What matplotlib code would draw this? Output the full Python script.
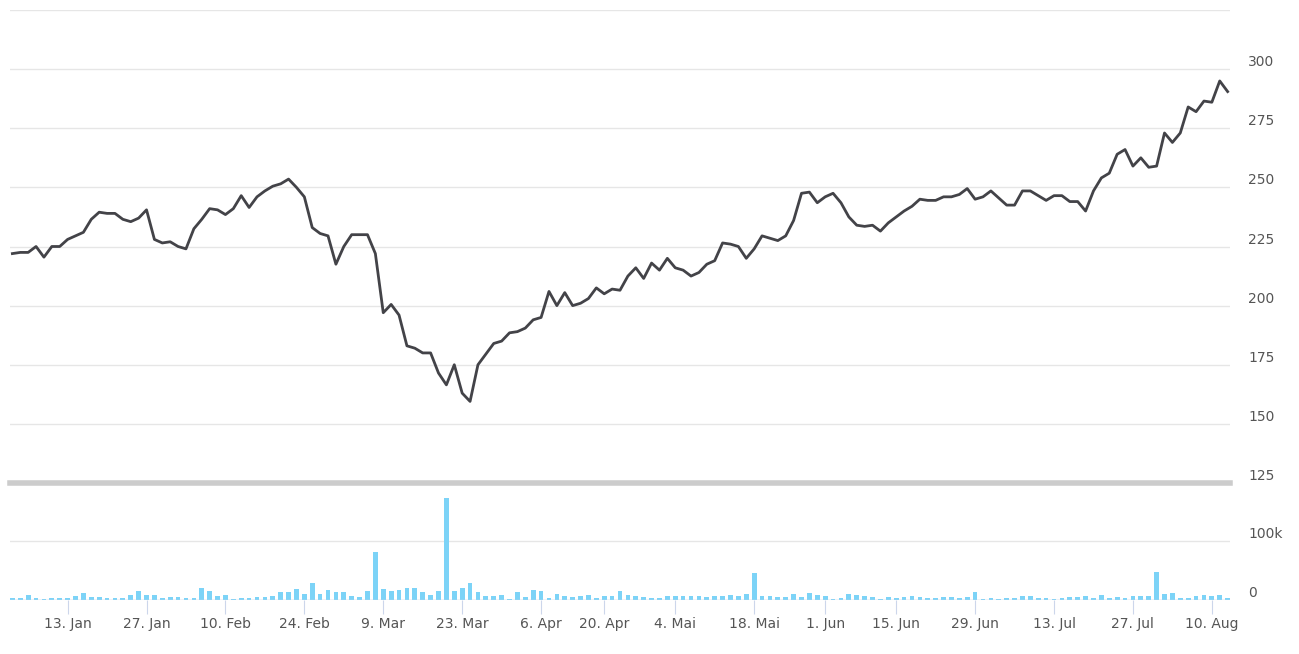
import numpy as np
import pandas as pd
import matplotlib.pyplot as plt

holidays = ["2020-04-10", "2020-04-13", "2020-05-01", "2020-05-21", "2020-06-11"]
dates = pd.bdate_range("2020-01-02", "2020-08-13")
dates = dates[~dates.isin(pd.to_datetime(holidays))]

price = [222, 222.5,
         222.5, 225, 220.5, 225, 225,
         228, 229.5, 231, 236.5, 239.5,
         239, 239, 236.5, 235.5, 237,
         240.5, 228, 226.5, 227, 225,
         224, 232.5, 236.5, 241, 240.5,
         238.5, 241, 246.5, 241.5, 246,
         248.5, 250.5, 251.5, 253.5, 250,
         246, 233, 230.5, 229.5, 217.5,
         225, 230, 230, 230, 222,
         197, 200.5, 196, 183, 182,
         180, 180, 171.5, 166.5, 175,
         163, 159.5, 175, 179.5, 184,
         185, 188.5, 189, 190.5, 194,
         195, 206, 200, 205.5,
         200, 201, 203, 207.5,
         205, 207, 206.5, 212.5, 216,
         211.5, 218, 215, 220,
         216, 215, 212.5, 214, 217.5,
         219, 226.5, 226, 225, 220,
         224, 229.5, 228.5, 227.5,
         229.5, 236, 247.5, 248, 243.5,
         246, 247.5, 243.5, 237.5, 234,
         233.5, 234, 231.5,
         235, 237.5, 240, 242, 245,
         244.5, 244.5, 246, 246, 247,
         249.5, 245, 246, 248.5, 245.5,
         242.5, 242.5, 248.5, 248.5, 246.5,
         244.5, 246.5, 246.5, 244, 244,
         240, 248.5, 254, 256, 264,
         266, 259, 262.5, 258.5, 259,
         273, 269, 273, 284, 282,
         286.5, 286, 295, 290.5]

volume = [3, 3, 9, 4, 1, 4, 4, 4, 7, 12, 5, 5, 4, 3, 3, 8,
          16, 9, 9, 4, 5, 5, 4, 4, 20, 16, 7, 8, 2, 4,
          4, 5, 5, 7, 13, 14, 19, 10, 28, 10, 17, 13, 14, 7, 5,
          15, 82, 18, 16, 17, 20, 21, 13, 9, 15, 173, 15,
          20, 28, 13, 7, 7, 8, 2, 13, 5, 17, 16, 4, 10, 7,
          5, 6, 8, 3, 6, 6, 15, 9, 7, 5, 4, 3, 6, 7, 7,
          7, 6, 5, 6, 7, 8, 7, 11, 45, 6, 7, 5, 5, 11, 5,
          12, 9, 6, 2, 4, 10, 8, 6, 5, 2, 5, 4, 5, 6, 5,
          4, 3, 5, 5, 3, 5, 13, 2, 4, 2, 4, 3, 7, 6, 3,
          3, 2, 4, 5, 5, 6, 4, 9, 3, 5, 4, 6, 7, 6, 47,
          11, 12, 3, 4, 6, 8, 7, 8, 4]

n = min(len(dates), len(price), len(volume))
dates = dates[:n]
price = np.array(price[:n])
volume = np.array(volume[:n]) * 1000
x = np.arange(n)

tick_dates = ["2020-01-13", "2020-01-27", "2020-02-10", "2020-02-24", "2020-03-09",
              "2020-03-23", "2020-04-06", "2020-04-20", "2020-05-04", "2020-05-18",
              "2020-06-01", "2020-06-15", "2020-06-29", "2020-07-13", "2020-07-27",
              "2020-08-10"]
tick_labels = ["13. Jan", "27. Jan", "10. Feb", "24. Feb", "9. Mar", "23. Mar",
               "6. Apr", "20. Apr", "4. Mai", "18. Mai", "1. Jun", "15. Jun",
               "29. Jun", "13. Jul", "27. Jul", "10. Aug"]
tick_pos = dates.searchsorted(pd.to_datetime(tick_dates))

W, H = 1299, 654
fig = plt.figure(figsize=(W / 100, H / 100), dpi=100)
left, right = 10 / W, 1230 / W
ax = fig.add_axes([left, 1 - 483 / H, right - left, (483 - 10) / H])
axv = fig.add_axes([left, 1 - 600 / H, right - left, (600 - 483) / H], sharex=ax)

txt = "#555555"
grid = "#e6e6e6"
for a in (ax, axv):
    for s in a.spines.values():
        s.set_visible(False)
    a.yaxis.tick_right()
    a.grid(axis="y", color=grid, lw=1)
    a.set_axisbelow(True)
    a.tick_params(axis="y", length=0, labelsize=10, labelcolor=txt, pad=13)

ax.plot(x, price, color="#434348", lw=2)
ax.set_ylim(125, 325)
ax.set_yticks([125, 150, 175, 200, 225, 250, 275, 300, 325])
ax.set_yticklabels(["125", "150", "175", "200", "225", "250", "275", "300", ""])
for lbl in ax.get_yticklabels():
    lbl.set_verticalalignment("bottom")
ax.tick_params(axis="x", bottom=False, labelbottom=False)
ax.set_xlim(-0.3, n - 0.7)

axv.bar(x, volume, width=0.6, color="#7cd3f7")
axv.set_ylim(0, 198000)
axv.set_yticks([0, 100000])
axv.set_yticklabels(["0", "100k"])
for lbl in axv.get_yticklabels():
    lbl.set_verticalalignment("bottom")
axv.axhline(198000, color="#cccccc", lw=4, clip_on=False)
axv.axhline(0, color="#ccd6eb", lw=1)
axv.set_xticks(tick_pos)
axv.set_xticklabels(tick_labels)
axv.tick_params(axis="x", length=10, color="#ccd6eb", labelsize=10, labelcolor=txt, pad=2)

fig.savefig("out.png", dpi=100)
